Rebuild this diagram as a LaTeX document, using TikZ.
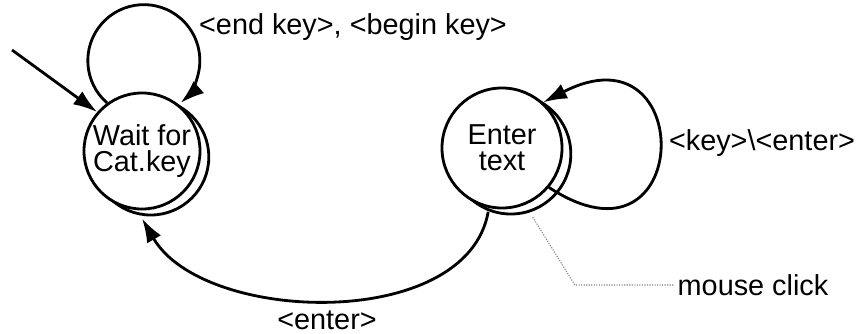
\documentclass[tikz,border=0pt]{standalone}
\usepackage{fontspec}
\setmainfont{Liberation Sans}
\usetikzlibrary{positioning,arrows.meta}
\usetikzlibrary{shadows}

\begin{document}
\begin{tikzpicture}[x=0.025cm,y=-0.025cm,>={Latex[length=6mm,width=4mm]},
  line width=2pt,font=\fontsize{20.5}{18.5}\selectfont,
  state/.style={circle,draw,fill=white,align=center,inner sep=0pt,
    copy shadow={shadow xshift=0.22cm,shadow yshift=-0.15cm}},
  lab/.style={inner sep=1pt},
  clickline/.style={densely dotted,gray,line width=0.8pt}]
  \useasboundingbox (0,0) rectangle (859,334);

  \node[state,minimum size=2.9cm] (wait) at (142,151) {Wait for\\Cat.key};
  \node[state,minimum size=3cm] (enter) at (502,148) {Enter\\text};
  \coordinate (start) at (12,50);

  \node[lab] (endbegin) at (353,27) {<end key>, <begin key>};
  \node[lab] (keyenter) at (762,143) {<key>\textbackslash<enter>};
  \node[lab] (click) at (753,285) {mouse click};
  \node[lab] (enterlab) at (327,320) {<enter>};

  \draw[->] (start) -- (wait.139);
  \draw[->] (wait.126) arc[start angle=229,end angle=-49,radius=1.4cm];
  \draw[->] (enter.-40) .. controls +(145,95) and +(155,-80) .. (enter.48);
  \draw[->] ([yshift=-1mm]enter.257) to[out=-100,in=-60,looseness=0.9] ([yshift=-2mm]wait.south);

  \draw[clickline] ([yshift=-4mm]enter.300) -- ([xshift=-2.5cm]click.west) -- (click.west);
\end{tikzpicture}
\end{document}
